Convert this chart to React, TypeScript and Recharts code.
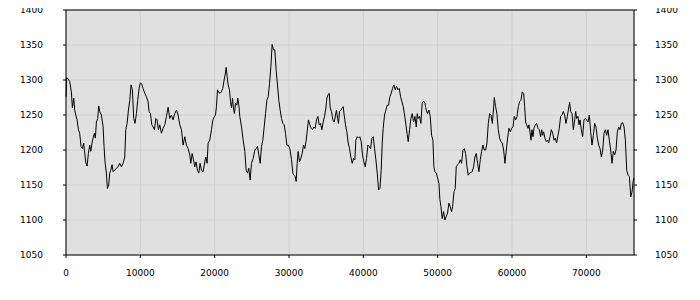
import { CartesianGrid, Line, LineChart, ReferenceLine, XAxis, YAxis } from "recharts";

const positions = [
  0, 100, 270, 500, 720, 860, 1040, 1170, 1310, 1490, 1670, 1840, 2020, 2200, 2380, 2470, 2650, 2830, 3010, 3190, 3330, 3500, 3640, 3820, 3950, 4090, 4270, 4400, 4540, 4760, 4990, 5120, 5250, 5430, 5570, 5750, 5880, 6020, 6200, 6330, 6560, 6780, 7000, 7230, 7450, 7680, 7900, 8040, 8220, 8400, 8580, 8750, 8930, 9110, 9290, 9470, 9650, 9830, 10010, 10190, 10370, 10590, 10820, 11040, 11180, 11360, 11540, 11720, 11900, 12080, 12250, 12430, 12610, 12840, 13060, 13290, 13510, 13740, 13960, 14180, 14410, 14630, 14860, 15080,
  15310, 15530, 15750, 15980, 16200, 16430, 16650, 16790, 16970, 17150, 17320, 17500, 17680, 17860, 18040, 18220, 18450, 18670, 18810, 18980, 19120, 19340, 19570, 19750, 19930, 20110, 20240, 20380, 20560, 20730, 20910, 21090, 21270, 21450, 21540, 21680, 21810, 21990, 22130, 22260, 22400, 22530, 22660, 22800, 22980, 23110, 23250, 23380, 23610, 23830, 24060, 24230, 24410, 24590, 24770, 24950, 25180, 25400, 25580, 25760, 25940, 26120, 26300, 26480, 26660, 26840, 27020, 27200, 27380, 27560, 27730, 27910, 28090, 28270, 28450, 28630, 28810, 28990, 29170, 29350, 29530, 29710, 29890, 30110, 30340, 30520,
  30650, 30830, 30960, 31100, 31230, 31410, 31590, 31770, 31950, 32130, 32310, 32440, 32620, 32800, 32980, 33160, 33340, 33520, 33700, 33880, 34060, 34240, 34420, 34600, 34780, 34960, 35090, 35270, 35410, 35540, 35720, 35900, 36080, 36260, 36390, 36530, 36660, 36800, 36980, 37160, 37290, 37420, 37600, 37780, 37960, 38140, 38320, 38500, 38680, 38860, 38990, 39170, 39350, 39530, 39710, 39890, 40070, 40250, 40430, 40610, 40790, 40970, 41150, 41330, 41510, 41690, 41870, 42050, 42230, 42400, 42540, 42670, 42850, 43030, 43210, 43390, 43570, 43750, 43930, 44110, 44290, 44470, 44650, 44830, 45010, 45190, 45370, 45550, 45730, 45900, 46040, 46220,
  46400, 46580, 46760, 46940, 47120, 47250, 47380, 47560, 47740, 47920, 48100, 48280, 48460, 48640, 48820, 49000, 49180, 49360, 49490, 49630, 49810, 49990, 50170, 50300, 50440, 50610, 50790, 50970, 51150, 51330, 51510, 51690, 51870, 52010, 52190, 52360, 52500, 52680, 52860, 53040, 53220, 53400, 53580, 53760, 53940, 54110, 54290, 54470, 54650, 54830, 55010, 55190, 55370, 55550, 55730, 55910, 56090, 56270, 56450, 56630, 56810, 56990, 57170, 57350, 57520, 57610, 57790, 57970, 58150, 58330, 58510, 58690, 58870, 59050, 59230, 59410, 59590, 59770, 59950, 60130, 60310, 60490, 60670, 60850, 61020, 61200, 61380,
  61560, 61700, 61830, 61970, 62150, 62280, 62410, 62550, 62680, 62820, 62950, 63130, 63310, 63490, 63670, 63850, 63990, 64120, 64250, 64430, 64610, 64790, 64930, 65110, 65290, 65470, 65650, 65820, 66000, 66180, 66360, 66540, 66720, 66900, 67080, 67260, 67440, 67620, 67750, 67890, 68070, 68250, 68430, 68560, 68700, 68880, 69010, 69150, 69320, 69500, 69680, 69860, 70040, 70220, 70400, 70580, 70760, 70940, 71120, 71300, 71480, 71660, 71840, 72020, 72200, 72380, 72560, 72730, 72910, 73090, 73270, 73450, 73630, 73810, 73990, 74170, 74350, 74530, 74710, 74890, 75070, 75250, 75430, 75610, 75790, 75970, 76140, 76320, 76410,
];

const values = [
  1276, 1303, 1302, 1298, 1283, 1260, 1274, 1257, 1250, 1243, 1229, 1224, 1205, 1202, 1210, 1200, 1183, 1177, 1195, 1207, 1198, 1210, 1217, 1224, 1217, 1240, 1245, 1263, 1255, 1250, 1233, 1205, 1183, 1167, 1145, 1150, 1167, 1171, 1179, 1169, 1171, 1174, 1176, 1181, 1176, 1181, 1190, 1229, 1238, 1257, 1271, 1293, 1286, 1245, 1238, 1252, 1271, 1288, 1296, 1294, 1288, 1281, 1276, 1269, 1255, 1252, 1236, 1233, 1229, 1245, 1243, 1229, 1236, 1224, 1231, 1236, 1248, 1261, 1245, 1250, 1243, 1252, 1257, 1250,
  1236, 1229, 1207, 1219, 1207, 1202, 1193, 1181, 1195, 1186, 1176, 1183, 1171, 1167, 1181, 1171, 1169, 1183, 1190, 1181, 1210, 1214, 1229, 1243, 1247, 1250, 1262, 1286, 1282, 1281, 1283, 1288, 1300, 1310, 1318, 1305, 1293, 1286, 1269, 1260, 1274, 1260, 1252, 1267, 1264, 1274, 1264, 1248, 1233, 1214, 1198, 1171, 1167, 1174, 1157, 1181, 1188, 1200, 1202, 1205, 1193, 1181, 1205, 1214, 1233, 1252, 1271, 1276, 1295, 1319, 1351, 1343, 1343, 1314, 1293, 1271, 1257, 1245, 1238, 1236, 1224, 1207, 1207, 1202, 1186, 1167,
  1164, 1162, 1155, 1181, 1198, 1183, 1188, 1195, 1207, 1202, 1214, 1226, 1243, 1236, 1231, 1229, 1233, 1231, 1243, 1248, 1236, 1238, 1229, 1240, 1248, 1260, 1274, 1279, 1281, 1260, 1255, 1243, 1240, 1250, 1257, 1245, 1238, 1255, 1257, 1260, 1262, 1250, 1236, 1226, 1210, 1202, 1190, 1181, 1188, 1186, 1214, 1219, 1217, 1219, 1212, 1193, 1183, 1176, 1188, 1207, 1205, 1202, 1217, 1219, 1202, 1186, 1167, 1143, 1145, 1171, 1210, 1231, 1250, 1257, 1264, 1264, 1276, 1281, 1288, 1293, 1286, 1291, 1286, 1288, 1276, 1269, 1262, 1250, 1236, 1222, 1212, 1229,
  1245, 1252, 1240, 1248, 1233, 1252, 1245, 1248, 1238, 1267, 1270, 1267, 1257, 1252, 1257, 1248, 1221, 1214, 1176, 1169, 1167, 1160, 1152, 1129, 1119, 1102, 1112, 1100, 1105, 1110, 1124, 1119, 1112, 1119, 1140, 1145, 1176, 1179, 1181, 1186, 1181, 1200, 1202, 1195, 1176, 1164, 1167, 1168, 1169, 1176, 1190, 1195, 1181, 1169, 1186, 1198, 1207, 1200, 1200, 1210, 1238, 1252, 1250, 1238, 1260, 1275, 1262, 1252, 1229, 1217, 1212, 1210, 1200, 1181, 1200, 1217, 1231, 1226, 1231, 1233, 1248, 1243, 1248, 1262, 1269, 1271, 1283,
  1281, 1262, 1240, 1236, 1231, 1236, 1226, 1214, 1229, 1219, 1231, 1236, 1238, 1231, 1229, 1219, 1229, 1221, 1226, 1217, 1212, 1214, 1210, 1219, 1229, 1224, 1214, 1217, 1210, 1221, 1231, 1248, 1250, 1255, 1250, 1238, 1248, 1260, 1268, 1255, 1252, 1229, 1243, 1255, 1245, 1248, 1236, 1243, 1229, 1219, 1243, 1245, 1243, 1240, 1250, 1226, 1207, 1221, 1238, 1233, 1217, 1207, 1202, 1190, 1200, 1224, 1229, 1221, 1229, 1214, 1200, 1181, 1198, 1193, 1200, 1226, 1233, 1229, 1238, 1239, 1233, 1214, 1171, 1164, 1162, 1133, 1140, 1157, 1160,
];

const xTicks = [0, 10000, 20000, 30000, 40000, 50000, 60000, 70000];
const yTicks = [1050, 1100, 1150, 1200, 1250, 1300, 1350, 1400];

const data = positions.map((x, i) => ({ x, value: values[i] }));

const tickStyle = { fill: "#000", fontSize: 9, fontFamily: "DejaVu Sans" };

export default function App() {
  return (
    <LineChart width={692} height={284} data={data} margin={{ top: 2, right: 0, bottom: 7, left: 0 }}
      style={{ fontFamily: "DejaVu Sans" }}>
      <CartesianGrid yAxisId="left" fill="#e0e0e0" stroke="#d0d0d0" strokeWidth={1} />
      <XAxis dataKey="x" type="number" domain={[0, "dataMax"]} ticks={xTicks} height={30} tickSize={3} tickMargin={12}
        stroke="#000" tick={tickStyle} interval={0} />
      <YAxis yAxisId="left" domain={[1050, 1400]} ticks={yTicks} width={58} tickSize={3} tickMargin={20}
        stroke="#000" tick={tickStyle} interval={0} />
      <YAxis yAxisId="right" orientation="right" domain={[1050, 1400]} ticks={yTicks} width={66} tickSize={3} tickMargin={18}
        stroke="#000" tick={tickStyle} interval={0} />
      <ReferenceLine yAxisId="left" y={1400} stroke="#000" />
      <Line yAxisId="right" type="linear" dataKey="value" stroke="none" dot={false} activeDot={false} isAnimationActive={false} legendType="none" />
      <Line yAxisId="left" type="linear" dataKey="value" stroke="#000" strokeWidth={1} dot={false} isAnimationActive={false} />
    </LineChart>
  );
}
